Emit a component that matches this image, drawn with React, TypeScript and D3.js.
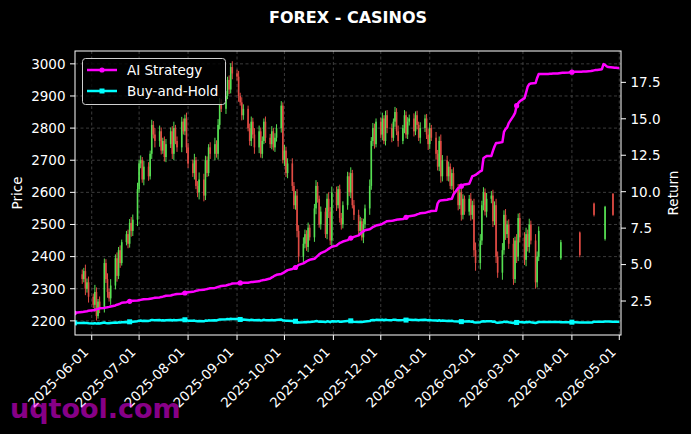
import React from 'react';
import * as d3 from 'd3';

const W = 691;
const H = 434;
const PLOT = { left: 75, right: 621, top: 51, bottom: 335 };
const FONT = 'DejaVu Sans, Verdana, sans-serif';

// calendar: weekdays from this day on, one per data point
const startDay = Date.UTC(2025, 4, 21);
const nDays = 248;

const priceTicks = [2200, 2300, 2400, 2500, 2600, 2700, 2800, 2900, 3000];
const returnTicks = [2.5, 5.0, 7.5, 10.0, 12.5, 15.0, 17.5];
const monthTicks = [
  '2025-06-01', '2025-07-01', '2025-08-01', '2025-09-01', '2025-10-01', '2025-11-01',
  '2025-12-01', '2026-01-01', '2026-02-01', '2026-03-01', '2026-04-01', '2026-05-01',
];

// daily closes (null = no candle)
const closes: (number | null)[] = [
  null, null, null,
  2330, 2355, 2300, 2320, 2275,
  2250, 2290, 2215, 2260, 2240,
  2380, 2330, 2290, 2270, 2310,
  2395, 2340, 2420, 2380, 2445,
  2470, 2440, 2505, 2480, 2515,
  2610, 2690, 2700, 2640, 2680,
  2650, 2720, 2810, 2780, 2760,
  2790, 2730, 2760, 2710, 2750,
  2790, 2720, 2800, 2760, 2740,
  2820, 2790, 2830, 2740, 2690,
  2660, 2700, 2620, 2600, 2640,
  2590, 2700, 2660, 2740, 2720,
  2750, 2720, 2810, 2880, 2860,
  2900, 2950, 2920, 2990, 2970,
  2960, 2900, 2880, 2840, 2860,
  2800, 2760, 2820, 2780, 2740,
  2790, 2720, 2760, 2820, 2770,
  2750, 2790, 2740, 2770, 2800,
  2870, 2700, 2730, 2660, 2690,
  2620, 2560, 2590, 2480, 2400,
  2440, 2470, 2430, 2490, 2460,
  2550, 2620, 2580, 2500, 2540,
  2470, 2580, 2540, 2450, 2600,
  2560, 2610, 2520, 2500, 2560,
  2650, 2600, 2660, 2560, 2530,
  2480, 2510, 2460, 2500, 2550,
  2620, 2760, 2800, 2750, 2820,
  2780, 2830, 2760, 2840, 2800,
  2770, 2820, 2850, 2790, 2760,
  2800, 2840, 2780, 2820, 2830,
  2790, 2840, 2810, 2770, 2800,
  2830, 2780, 2750, 2800, 2770,
  2720, 2680, 2760, 2650, 2700,
  2650, 2680, 2620, 2660, 2610,
  2560, 2600, 2530, 2580, 2540,
  2580, 2530, 2560, 2420, 2380,
  2450, 2560, 2600, 2540, 2580,
  2590, 2510, 2560, 2400, 2350,
  2420, 2530, 2470, 2500, 2440,
  2330, 2450, 2400, 2520, 2460,
  2390, 2470, 2430, 2500, 2450,
  2320, 2400, 2480, null, null,
  null, null, null, null, null,
  null, null, null, null, null,
  null, null, null, null, null,
  null, null, null, null, null,
  null, null, null, null, null,
  null, null, null, null, null,
  null, null, null, null, null,
];

// wick length beyond the body, price units
const wicks: number[] = [
  0, 0, 0,
  15, 10, 20, 12, 18,
  10, 22, 14, 8, 16,
  14, 12, 18, 10, 20,
  12, 18, 10, 15, 8,
  10, 14, 12, 18, 16,
  20, 12, 15, 10, 18,
  14, 10, 16, 12, 20,
  18, 12, 10, 14, 16,
  12, 16, 20, 10, 14,
  15, 10, 12, 18, 14,
  12, 20, 10, 15, 22,
  18, 14, 12, 10, 16,
  20, 12, 18, 14, 10,
  16, 10, 14, 12, 18,
  12, 18, 10, 16, 14,
  10, 14, 16, 12, 20,
  18, 12, 14, 10, 16,
  12, 16, 10, 14, 12,
  14, 10, 18, 12, 16,
  16, 12, 14, 20, 18,
  20, 14, 12, 16, 10,
  14, 18, 12, 10, 16,
  12, 16, 20, 14, 18,
  18, 10, 14, 16, 12,
  14, 12, 18, 10, 16,
  16, 14, 10, 18, 12,
  20, 12, 16, 14, 10,
  12, 18, 10, 14, 16,
  14, 10, 16, 12, 18,
  10, 16, 12, 14, 12,
  16, 12, 14, 10, 18,
  12, 14, 18, 16, 10,
  18, 12, 14, 20, 16,
  14, 16, 10, 12, 18,
  16, 12, 18, 14, 10,
  12, 18, 14, 20, 24,
  20, 14, 16, 12, 18,
  14, 18, 12, 20, 16,
  22, 14, 18, 12, 16,
  18, 12, 20, 14, 16,
  16, 20, 14, 18, 12,
  20, 16, 14, 0, 0,
];
const firstOpen = 2345;

// isolated candles in spring 2026 (index into the calendar)
const lateCandles = [
  { i: 220, o: 2395, h: 2452, l: 2390, c: 2445 },
  { i: 228, o: 2475, h: 2478, l: 2398, c: 2405 },
  { i: 235, o: 2565, h: 2568, l: 2525, c: 2530 },
  { i: 240, o: 2455, h: 2558, l: 2450, c: 2555 },
  { i: 243, o: 2595, h: 2598, l: 2527, c: 2530 },
];

const aiStrategy: number[] = [
  1.68, 1.70, 1.71,
  1.74, 1.76, 1.78, 1.80, 1.83,
  1.86, 1.90, 1.93, 1.96, 2.00,
  2.03, 2.05, 2.08, 2.10, 2.13,
  2.20, 2.25, 2.28, 2.32, 2.38,
  2.42, 2.46, 2.48, 2.50, 2.52,
  2.54, 2.56, 2.58, 2.60, 2.62,
  2.64, 2.66, 2.68, 2.70, 2.72,
  2.75, 2.78, 2.80, 2.83, 2.86,
  2.88, 2.91, 2.94, 2.96, 2.98,
  3.00, 3.03, 3.05, 3.08, 3.10,
  3.13, 3.16, 3.20, 3.22, 3.25,
  3.27, 3.30, 3.32, 3.35, 3.38,
  3.40, 3.43, 3.47, 3.50, 3.53,
  3.57, 3.60, 3.63, 3.66, 3.70,
  3.72, 3.73, 3.74, 3.74, 3.75,
  3.75, 3.78, 3.80, 3.80, 3.82,
  3.85, 3.90, 3.92, 3.95, 3.96,
  4.05, 4.12, 4.18, 4.25, 4.30,
  4.36, 4.42, 4.48, 4.55, 4.62,
  4.70, 4.75, 4.80, 4.88, 4.98,
  5.08, 5.15, 5.22, 5.28, 5.33,
  5.40, 5.50, 5.60, 5.70, 5.78,
  5.93, 6.00, 6.08, 6.15, 6.22,
  6.30, 6.40, 6.48, 6.52, 6.58,
  6.68, 6.75, 6.82, 6.86, 6.90,
  7.00, 7.12, 7.20, 7.28, 7.35,
  7.42, 7.50, 7.58, 7.62, 7.68,
  7.75, 7.80, 7.86, 7.92, 7.98,
  8.00, 8.02, 8.05, 8.08, 8.10,
  8.12, 8.18, 8.24, 8.28, 8.32,
  8.36, 8.40, 8.45, 8.48, 8.52,
  8.55, 8.58, 8.62, 8.64, 8.67,
  8.70, 9.20, 9.36, 9.40, 9.42,
  9.45, 9.48, 9.50, 9.52, 9.80,
  10.25, 10.30, 10.38, 10.45, 10.50,
  10.55, 10.80, 11.07, 11.10, 11.15,
  11.40, 11.45, 12.30, 12.38, 12.44,
  12.45, 12.80, 13.10, 13.34, 13.34,
  13.40, 14.10, 14.30, 14.40, 14.70,
  15.20, 15.40, 15.90, 16.08, 16.20,
  16.42, 16.80, 17.20, 17.38, 17.42,
  17.45, 17.80, 18.07, 18.08, 18.08,
  18.08, 18.08, 18.09, 18.09, 18.10,
  18.10, 18.12, 18.14, 18.15, 18.16,
  18.18, 18.20, 18.20, 18.21, 18.22,
  18.22, 18.23, 18.24, 18.24, 18.25,
  18.28, 18.30, 18.32, 18.34, 18.35,
  18.40, 18.75, 18.70, 18.60, 18.55,
  18.52, 18.50, 18.50, 18.48, 18.48,
];

const UP = '#5ef25a';
const DOWN = '#f4524a';
const MAGENTA = '#ff00ff';
const CYAN = '#00ffff';

function weekdays(start: number, n: number): Date[] {
  const out: Date[] = [];
  let t = start;
  while (out.length < n) {
    const d = new Date(t);
    const wd = d.getUTCDay();
    if (wd !== 0 && wd !== 6) out.push(d);
    t += 86400000;
  }
  return out;
}

type Candle = { date: Date; o: number; h: number; l: number; c: number };

export default function App() {
  const dates = weekdays(startDay, nDays);

  const x = d3.scaleUtc()
    .domain([new Date(Date.UTC(2025, 4, 21, 10)), new Date(Date.UTC(2026, 4, 2, 2))])
    .range([PLOT.left, PLOT.right]);
  const yPrice = d3.scaleLinear().domain([2156, 3040]).range([PLOT.bottom, PLOT.top]);
  const yRet = d3.scaleLinear().domain([0.17, 19.65]).range([PLOT.bottom, PLOT.top]);

  // candles
  const candles: Candle[] = [];
  let prev: number | null = null;
  closes.forEach((c, i) => {
    if (c == null) return;
    const o = prev ?? firstOpen;
    candles.push({
      date: dates[i], o, c,
      h: Math.max(o, c) + wicks[i],
      l: Math.min(o, c) - wicks[i],
    });
    prev = c;
  });
  lateCandles.forEach(k => candles.push({ date: dates[k.i], o: k.o, h: k.h, l: k.l, c: k.c }));

  // buy-and-hold: close relative to first close, carried forward
  const lateMap = new Map(lateCandles.map(k => [k.i, k.c]));
  const base = closes.find(c => c != null) as number;
  let last = base;
  const buyHold = dates.map((_, i) => {
    const c = closes[i] ?? lateMap.get(i);
    if (c != null) last = c;
    return last / base;
  });

  const aiPts = dates.map((d, i) => [x(d), yRet(aiStrategy[i])] as [number, number]);
  const bhPts = dates.map((d, i) => [x(d), yRet(buyHold[i])] as [number, number]);
  const line = d3.line();
  const markEvery = 25;

  const monthDates = monthTicks.map(s => new Date(s + 'T00:00:00Z'));
  const fmt = d3.utcFormat('%Y-%m-%d');
  const retFmt = d3.format('.1f');
  const FS = 13.5;

  return (
    <svg width={W} height={H} style={{ position: 'absolute', left: 0, top: 0, background: '#000' }}
      fontFamily={FONT}>
      <rect x={0} y={0} width={W} height={H} fill="#000" />
      <defs>
        <clipPath id="plot">
          <rect x={PLOT.left} y={PLOT.top} width={PLOT.right - PLOT.left} height={PLOT.bottom - PLOT.top} />
        </clipPath>
      </defs>

      <text x={348} y={23} fill="#fff" fontSize={16} fontWeight="bold" textAnchor="middle">FOREX - CASINOS</text>

      {/* grid */}
      <g stroke="#4a4a4a" strokeWidth={0.8} strokeDasharray="3,2.5">
        {priceTicks.map(t => (
          <line key={t} x1={PLOT.left} x2={PLOT.right} y1={yPrice(t)} y2={yPrice(t)} />
        ))}
        {monthDates.map(d => (
          <line key={+d} x1={x(d)} x2={x(d)} y1={PLOT.top} y2={PLOT.bottom} />
        ))}
      </g>

      {/* candles */}
      <g clipPath="url(#plot)">
        {candles.map((k, i) => {
          const cx = x(k.date);
          const col = k.c >= k.o ? UP : DOWN;
          const top = yPrice(Math.max(k.o, k.c));
          const bot = yPrice(Math.min(k.o, k.c));
          return (
            <g key={i} opacity={0.92}>
              <line x1={cx} x2={cx} y1={yPrice(k.h)} y2={yPrice(k.l)} stroke={col} strokeWidth={1} />
              <rect x={cx - 0.8} y={top} width={1.6} height={Math.max(0.8, bot - top)} fill={col} />
            </g>
          );
        })}
      </g>

      {/* return lines */}
      <g clipPath="url(#plot)" fill="none">
        <path d={line(aiPts) ?? ''} stroke={MAGENTA} strokeWidth={2.5} strokeLinejoin="round" />
        {aiPts.filter((_, i) => i % markEvery === 0).map((p, i) => (
          <circle key={i} cx={p[0]} cy={p[1]} r={2.6} fill={MAGENTA} />
        ))}
        <path d={line(bhPts) ?? ''} stroke={CYAN} strokeWidth={2.5} strokeLinejoin="round" />
        {bhPts.filter((_, i) => i % markEvery === 0).map((p, i) => (
          <rect key={i} x={p[0] - 2.5} y={p[1] - 2.5} width={5} height={5} fill={CYAN} />
        ))}
      </g>

      {/* spines */}
      <rect x={PLOT.left} y={PLOT.top} width={PLOT.right - PLOT.left} height={PLOT.bottom - PLOT.top}
        fill="none" stroke="#fff" strokeWidth={1} />

      {/* left axis */}
      <g fill="#fff" fontSize={FS}>
        {priceTicks.map(t => (
          <g key={t}>
            <line x1={PLOT.left - 5} x2={PLOT.left} y1={yPrice(t)} y2={yPrice(t)} stroke="#fff" />
            <text x={PLOT.left - 9.5} y={yPrice(t)} dy="0.36em" textAnchor="end">{t}</text>
          </g>
        ))}
        <text transform={`translate(22,${(PLOT.top + PLOT.bottom) / 2}) rotate(-90)`} textAnchor="middle">Price</text>
      </g>

      {/* right axis */}
      <g fill="#fff" fontSize={FS}>
        {returnTicks.map(t => (
          <g key={t}>
            <line x1={PLOT.right} x2={PLOT.right + 5} y1={yRet(t)} y2={yRet(t)} stroke="#fff" />
            <text x={PLOT.right + 9.5} y={yRet(t)} dy="0.36em">{retFmt(t)}</text>
          </g>
        ))}
        <text transform={`translate(678,${(PLOT.top + PLOT.bottom) / 2}) rotate(-90)`} textAnchor="middle">Return</text>
      </g>

      {/* x axis */}
      <g fill="#fff" fontSize={FS}>
        {monthDates.map(d => (
          <g key={+d}>
            <line x1={x(d)} x2={x(d)} y1={PLOT.bottom} y2={PLOT.bottom + 5} stroke="#fff" />
            <text transform={`translate(${x(d) - 2.5},${PLOT.bottom + 18}) rotate(-45)`} textAnchor="end">{fmt(d)}</text>
          </g>
        ))}
      </g>

      {/* legend */}
      <g>
        <rect x={82.5} y={58.5} width={143} height={46} rx={3} fill="#000" fillOpacity={0.8} stroke="#d0d0d0" strokeWidth={1} />
        <line x1={87} x2={117} y1={70} y2={70} stroke={MAGENTA} strokeWidth={2.5} />
        <circle cx={102} cy={70} r={2.6} fill={MAGENTA} />
        <text x={127} y={70} dy="0.36em" fill="#fff" fontSize={13.5}>AI Strategy</text>
        <line x1={87} x2={117} y1={91} y2={91} stroke={CYAN} strokeWidth={2.5} />
        <rect x={99.5} y={88.5} width={5} height={5} fill={CYAN} />
        <text x={127} y={91} dy="0.36em" fill="#fff" fontSize={13.5}>Buy-and-Hold</text>
      </g>

      <text x={10} y={418} fill={MAGENTA} fillOpacity={0.55} fontSize={27} fontWeight="bold">uqtool.com</text>
    </svg>
  );
}
